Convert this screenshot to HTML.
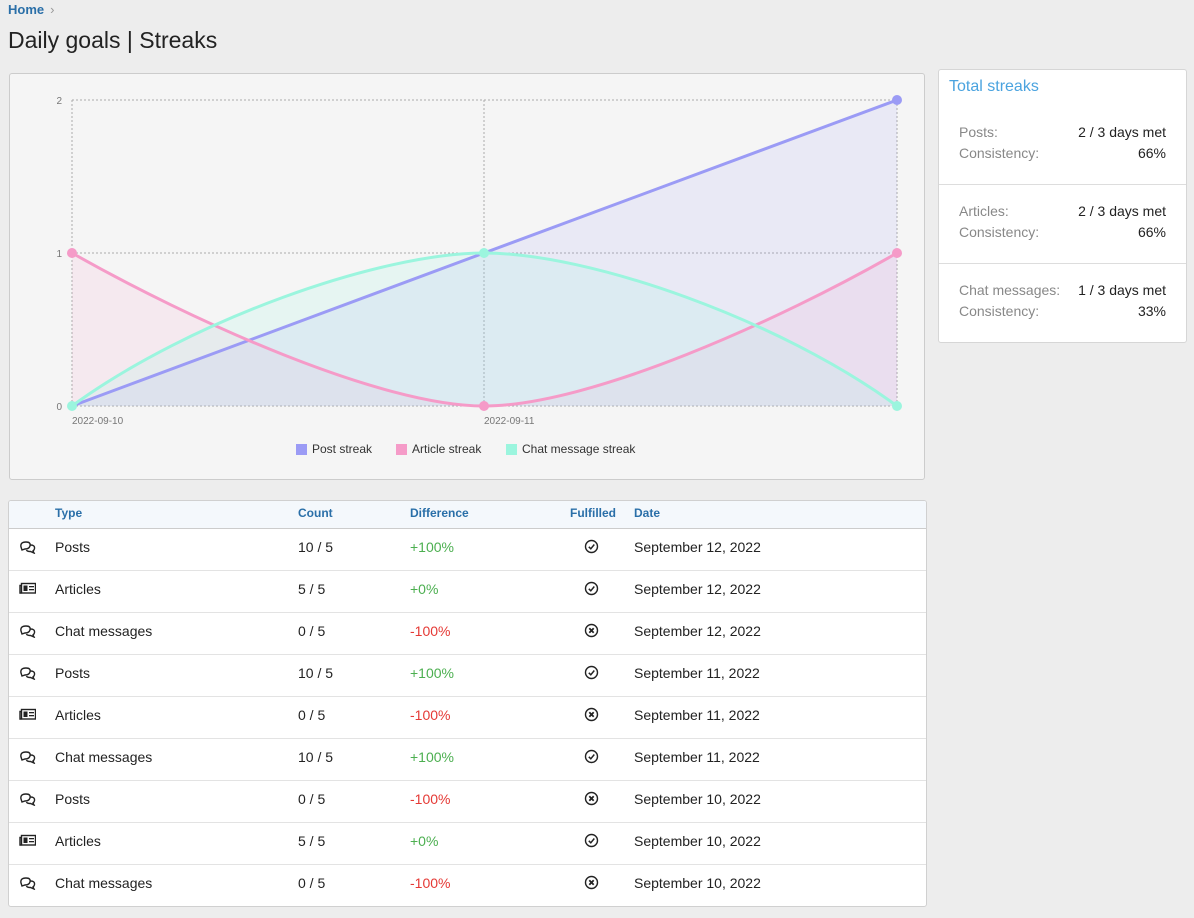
<!DOCTYPE html>
<html><head><meta charset="utf-8"><style>
body{margin:0;width:1194px;height:918px;background:#ededed;font-family:"Liberation Sans",sans-serif;position:relative;overflow:hidden}
.a{position:absolute}
.crumb{left:8px;top:2px;font-size:13px;font-weight:bold;color:#2a6fa8}
.crumb span{color:#999;font-weight:normal;margin-left:6px}
h1{position:absolute;left:8px;top:27px;margin:0;font-size:23px;font-weight:normal;color:#222}
.chart{left:9px;top:73px;width:914px;height:405px;background:#f5f5f5;border:1px solid #ccc;border-radius:3px}
.side{left:938px;top:69px;width:247px;height:272px;background:#fff;border:1px solid #d6d6d6;border-radius:3px}
.side .t{position:absolute;left:10px;top:8px;font-size:16px;color:#4aa3df}
.grp{position:absolute;left:20px;right:20px;font-size:14px;color:#222;line-height:21px}
.grp div{display:flex;justify-content:space-between}
.grp i{font-style:normal;color:#888}
.sep{position:absolute;left:0;right:0;height:1px;background:#ddd}
.tbl{left:8px;top:500px;width:917px;height:405px;background:#fff;border:1px solid #d0d0d0;border-radius:3px;overflow:hidden}
.hd{position:absolute;left:0;right:0;top:0;height:27px;background:#f4f8fc;border-bottom:1px solid #ccc;font-size:12px;font-weight:bold;color:#2a6fa8}
.hd span,.r span{position:absolute;top:0}
.hd span{line-height:24px}
.r{position:absolute;left:0;right:0;height:41px;border-bottom:1px solid #e3e3e3;font-size:14px;color:#222}
.r span{line-height:36px}
.g{color:#4caf50}.rd{color:#e53935}
</style></head><body>
<div class="a crumb">Home<span>›</span></div>
<h1>Daily goals | Streaks</h1>
<div class="a chart"></div>
<svg class="a" style="left:0;top:0" width="930" height="480">
<g font-size="10" fill="#777" font-family="Liberation Sans">
<text x="62" y="104" text-anchor="end">2</text><text x="62" y="257" text-anchor="end">1</text><text x="62" y="410" text-anchor="end">0</text>
<text x="72" y="424">2022-09-10</text><text x="484" y="424">2022-09-11</text></g>
<g stroke="#aaa" stroke-dasharray="2,2" fill="none"><line x1="72" y1="100" x2="897" y2="100"/><line x1="72" y1="253" x2="897" y2="253"/><line x1="72" y1="406" x2="897" y2="406"/><line x1="72" y1="100" x2="72" y2="406"/><line x1="484" y1="100" x2="484" y2="406"/><line x1="897" y1="100" x2="897" y2="406"/></g>
<path d="M72,406 L484,253 L897,100 L897,406Z" fill="rgba(150,150,250,0.12)"/>
<path d="M72,253 C190,320 380,406 484,406 C590,406 780,320 897,253 L897,406 L72,406Z" fill="rgba(245,150,200,0.12)"/>
<path d="M72,406 C190,320 380,253 484,253 C590,253 780,320 897,406Z" fill="rgba(150,245,225,0.15)"/>
<g fill="none" stroke-width="3"><path d="M72,406 L484,253 L897,100" stroke="#9b9bf5"/>
<path d="M72,253 C190,320 380,406 484,406 C590,406 780,320 897,253" stroke="#f59bc8"/>
<path d="M72,406 C190,320 380,253 484,253 C590,253 780,320 897,406" stroke="#9bf5de"/></g>
<g fill="#9b9bf5"><circle cx="897" cy="100" r="5"/></g>
<g fill="#f59bc8"><circle cx="72" cy="253" r="5"/><circle cx="484" cy="406" r="5"/><circle cx="897" cy="253" r="5"/></g>
<g fill="#9bf5de"><circle cx="72" cy="406" r="5"/><circle cx="484" cy="253" r="5"/><circle cx="897" cy="406" r="5"/></g>
<g font-size="12" fill="#333" font-family="Liberation Sans">
<rect x="296" y="444" width="11" height="11" fill="#9b9bf5"/><text x="312" y="453">Post streak</text>
<rect x="396" y="444" width="11" height="11" fill="#f59bc8"/><text x="412" y="453">Article streak</text>
<rect x="506" y="444" width="11" height="11" fill="#9bf5de"/><text x="522" y="453">Chat message streak</text></g>
</svg>
<div class="a side"><div class="t">Total streaks</div>
<div class="grp" style="top:52px"><div><i>Posts:</i>2 / 3 days met</div><div><i>Consistency:</i>66%</div></div>
<div class="sep" style="top:114px"></div>
<div class="grp" style="top:131px"><div><i>Articles:</i>2 / 3 days met</div><div><i>Consistency:</i>66%</div></div>
<div class="sep" style="top:193px"></div>
<div class="grp" style="top:210px"><div><i>Chat messages:</i>1 / 3 days met</div><div><i>Consistency:</i>33%</div></div>
</div>
<div class="a tbl">
<div class="hd"><span style="left:46px">Type</span><span style="left:289px">Count</span><span style="left:401px">Difference</span><span style="left:561px">Fulfilled</span><span style="left:625px">Date</span></div>
<div id="rows"></div>
</div>
<script>
var Q='<svg width="17" height="14" viewBox="0 0 17 14"><path d="M2 7 Q1 2 7 2 Q12 2 11 6 Q10 9 6 9 L3 10 Z" fill="none" stroke="#222" stroke-width="1.4"/><path d="M11.5 5 Q16 5 15.5 8.5 Q15 10.5 14 11 L15 13 L11.5 11.5 Q8 11.5 7.5 10" fill="none" stroke="#222" stroke-width="1.4"/></svg>';
var A='<svg width="17" height="12" viewBox="0 0 17 12"><rect x="2.5" y="1.5" width="14" height="9.5" fill="none" stroke="#222" stroke-width="1.4"/><path d="M2.5 3.5 H1 V11 H2.5" fill="none" stroke="#222" stroke-width="1.4"/><rect x="4.5" y="3.5" width="4" height="5.5" fill="#222"/><rect x="10" y="4" width="5" height="1.3" fill="#222"/><rect x="10" y="7" width="5" height="1.3" fill="#222"/></svg>';
var C='<svg width="15" height="15"><circle cx="7.5" cy="7.5" r="6" fill="none" stroke="#222" stroke-width="1.4"/><path d="M4.8 7.8 L6.8 9.8 L10.3 5.5" fill="none" stroke="#222" stroke-width="1.5"/></svg>';
var X='<svg width="15" height="15"><circle cx="7.5" cy="7.5" r="6" fill="none" stroke="#222" stroke-width="1.4"/><path d="M5.3 5.3 L9.7 9.7 M9.7 5.3 L5.3 9.7" stroke="#222" stroke-width="1.8"/></svg>';
var d=[["Q","Posts","10 / 5","+100%",1,"12"],["A","Articles","5 / 5","+0%",1,"12"],["Q","Chat messages","0 / 5","-100%",0,"12"],["Q","Posts","10 / 5","+100%",1,"11"],["A","Articles","0 / 5","-100%",0,"11"],["Q","Chat messages","10 / 5","+100%",1,"11"],["Q","Posts","0 / 5","-100%",0,"10"],["A","Articles","5 / 5","+0%",1,"10"],["Q","Chat messages","0 / 5","-100%",0,"10"]];
var h="";d.forEach(function(r,i){h+='<div class="r" style="top:'+(28+i*42)+'px"><span style="left:10px;top:11px;line-height:0">'+(r[0]=="Q"?Q:A)+'</span><span style="left:46px">'+r[1]+'</span><span style="left:289px">'+r[2]+'</span><span class="'+(r[3][0]=="-"?"rd":"g")+'" style="left:401px">'+r[3]+'</span><span style="left:575px;top:10px;line-height:0">'+(r[4]?C:X)+'</span><span style="left:625px">September '+r[5]+', 2022</span></div>';});
document.getElementById("rows").innerHTML=h;
</script>
</body></html>
